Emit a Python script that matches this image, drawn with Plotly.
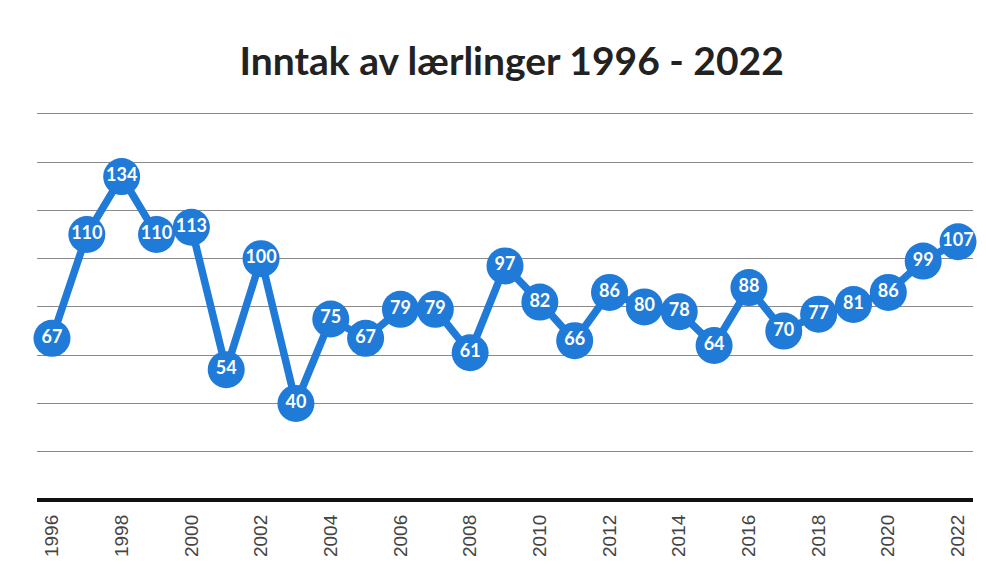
import plotly.graph_objects as go

years = list(range(1996, 2023))
values = [67, 110, 134, 110, 113, 54, 100, 40, 75, 67, 79, 79, 61, 97, 82, 66,
          86, 80, 78, 64, 88, 70, 77, 81, 86, 99, 107]
tick_years = list(range(1996, 2023, 2))
title_text = "Inntak av lærlinger 1996 - 2022"

blue = "#1f7ad8"

fig = go.Figure()
fig.add_trace(go.Scatter(
    x=years, y=values, mode="lines+markers+text",
    line=dict(color=blue, width=7.5),
    marker=dict(size=37, color=blue, line=dict(width=0)),
    text=[str(v) for v in values],
    textposition="middle center",
    textfont=dict(family="Lato, Arial, sans-serif", size=18, color="white", weight="bold"),
    cliponaxis=False,
    hoverinfo="x+y",
))

fig.update_layout(
    width=978, height=560,
    margin=dict(l=29, r=13, t=101, b=68),
    paper_bgcolor="white",
    plot_bgcolor="white",
    showlegend=False,
    title=dict(text="<b>" + title_text + "</b>", x=0.515, xanchor="center",
               y=0.904, yanchor="middle",
               font=dict(family="Lato, 'Open Sans', sans-serif", size=39, color="#222222")),
    xaxis=dict(
        range=[1995.57, 2022.43], tickmode="array", tickvals=tick_years,
        ticktext=[str(y) for y in tick_years], tickangle=-90,
        showgrid=False, zeroline=False, showline=False, ticks="",
        ticklabelstandoff=10,
        tickfont=dict(family="Liberation Sans, Arial, sans-serif", size=19, color="#444444"),
    ),
    yaxis=dict(
        range=[0, 162], tickmode="array", tickvals=[0, 20, 40, 60, 80, 100, 120, 140, 160],
        showticklabels=False, ticks="",
        showgrid=True, gridcolor="#8a8a8a", gridwidth=1,
        zeroline=True, zerolinecolor="#111111", zerolinewidth=3.5,
        showline=False,
    ),
)

fig.write_html("out.html")
